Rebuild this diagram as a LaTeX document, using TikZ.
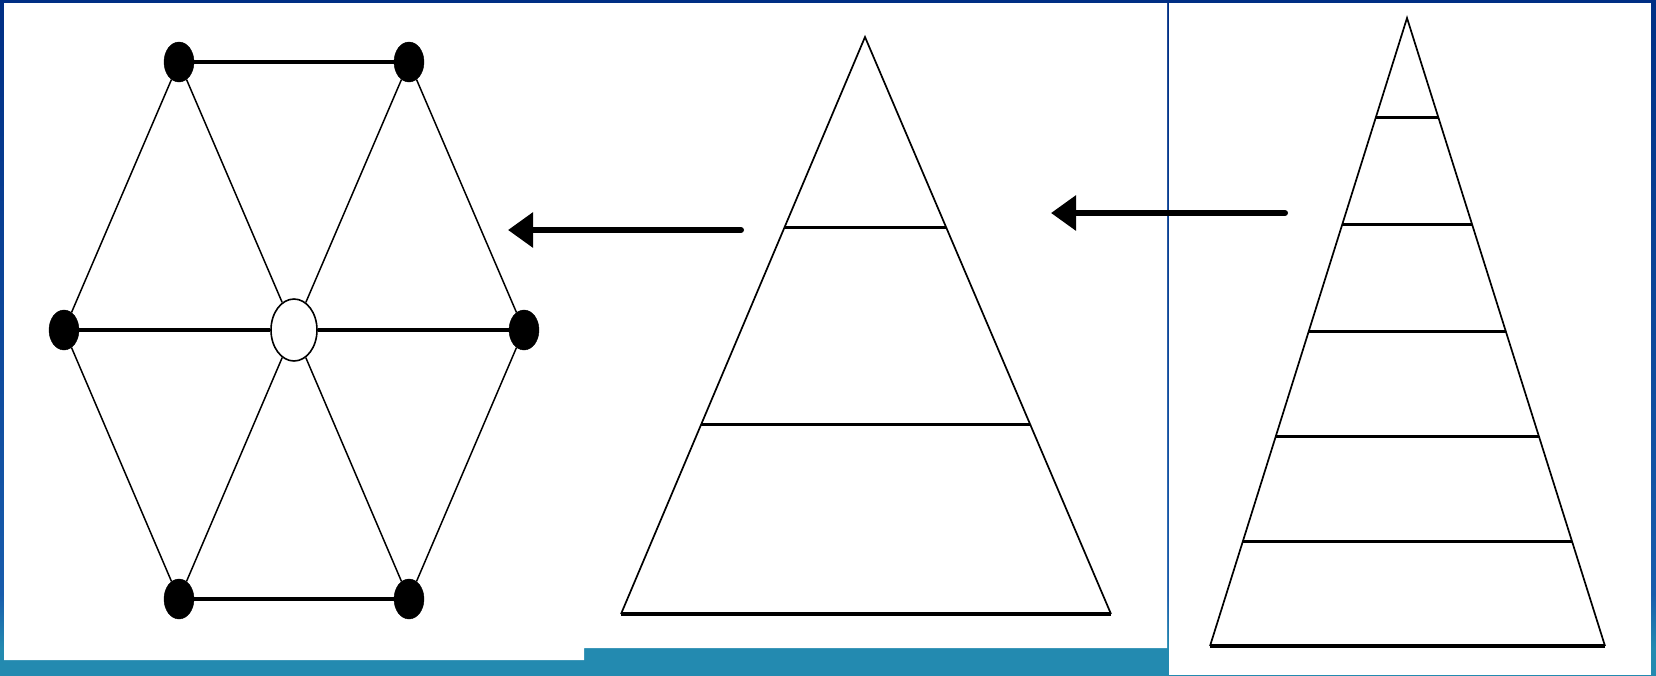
\documentclass[tikz,border=0pt]{standalone}
\usetikzlibrary{shapes.geometric,arrows.meta,calc}
\definecolor{navy}{RGB}{0,46,132}
\definecolor{midblue}{RGB}{24,92,172}
\definecolor{teal}{RGB}{35,138,176}
\pgfdeclareverticalshading{bgshade}{100bp}{color(0bp)=(teal); color(27bp)=(teal); color(31bp)=(midblue); color(75bp)=(navy); color(100bp)=(navy)}
\tikzset{
  dotfill/.style={ellipse,draw=black,fill=black,minimum width=30pt,minimum height=40pt,inner sep=0pt},
  dotopen/.style={ellipse,draw=black,line width=1.6pt,fill=white,minimum width=46pt,minimum height=62pt,inner sep=0pt},
  thin edge/.style={line width=1.5pt,black},
  thick edge/.style={line width=3.4pt,black},
  side/.style={line width=1.7pt,black,line join=miter},
  level/.style={line width=3pt,black},
  bigarrow/.style={line width=6pt,line cap=round,-{Triangle[length=25pt,width=34pt]}}
}
\begin{document}
\begin{tikzpicture}[x=1pt,y=-1pt]
\useasboundingbox (0,0) rectangle (1656,675);
% background
\shade[shading=bgshade] (0,0) rectangle (1656,675);
% white panels
\fill[white] (4,3) -- (1167,3) -- (1167,648) -- (584,648) -- (584,660) -- (4,660) -- cycle;
\fill[white] (1169,3) rectangle (1651,675);

% hexagon graph
\node[dotfill] (TL) at (179,62) {};
\node[dotfill] (TR) at (409,62) {};
\node[dotfill] (L) at (64,330) {};
\node[dotopen] (C) at (294,330) {};
\node[dotfill] (R) at (524,330) {};
\node[dotfill] (BL) at (179,599) {};
\node[dotfill] (BR) at (409,599) {};
\draw[thick edge] (TL) -- (TR);
\draw[thick edge] (L) -- (C);
\draw[thick edge] (C) -- (R);
\draw[thick edge] (BL) -- (BR);
\draw[thin edge] (TL) -- (L);
\draw[thin edge] (TL) -- (C);
\draw[thin edge] (TR) -- (C);
\draw[thin edge] (TR) -- (R);
\draw[thin edge] (L) -- (BL);
\draw[thin edge] (C) -- (BL);
\draw[thin edge] (C) -- (BR);
\draw[thin edge] (R) -- (BR);

% middle triangle
\coordinate (MA) at (865,37);
\coordinate (ML) at (621,614);
\coordinate (MR) at (1111,614);
\draw[side] (ML) -- (MA) -- (MR);
\draw[line width=3.4pt] (ML) -- (MR);
\draw[level] ($(MA)!0.331!(ML)$) -- ($(MA)!0.331!(MR)$);
\draw[level] ($(MA)!0.671!(ML)$) -- ($(MA)!0.671!(MR)$);

% right triangle
\coordinate (RA) at (1407,18);
\coordinate (RL) at (1210,646);
\coordinate (RR) at (1605,646);
\draw[side] (RL) -- (RA) -- (RR);
\draw[line width=3.4pt] (RL) -- (RR);
\foreach \t in {0.158,0.3285,0.4992,0.6667,0.8341}{
  \draw[level] ($(RA)!\t!(RL)$) -- ($(RA)!\t!(RR)$);
}

% arrows
\coordinate (A1s) at (741,230);
\coordinate (A1e) at (508,230);
\draw[bigarrow] (A1s) -- (A1e);
\coordinate (A2s) at (1285,213);
\coordinate (A2e) at (1051,213);
\draw[bigarrow] (A2s) -- (A2e);
\end{tikzpicture}
\end{document}
